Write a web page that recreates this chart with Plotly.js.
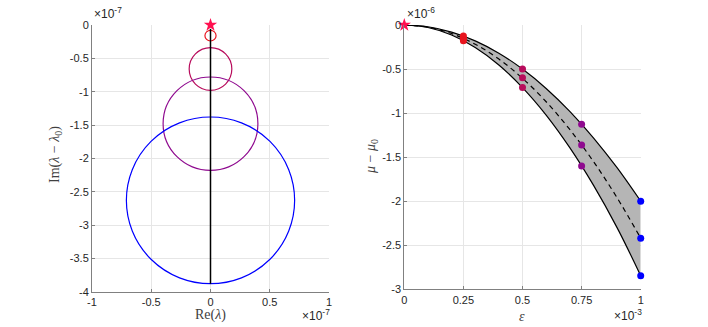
<!DOCTYPE html>
<html>
<head>
<meta charset="utf-8">
<script src="https://cdn.plot.ly/plotly-3.0.1.min.js"></script>
<style>
  body { margin: 0; background: #fff; }
  #plot { width: 708px; height: 327px; }
</style>
</head>
<body>
<div id="plot"></div>
<script>
// left panel: Im/Re plane, values in units of 1e-7
const reTicks = [-1, -0.5, 0, 0.5, 1];
const reTickText = ['-1', '-0.5', '0', '0.5', '1'];
const imTicks = [0, -0.5, -1, -1.5, -2, -2.5, -3, -3.5, -4];
const imTickText = ['0', '-0.5', '-1', '-1.5', '-2', '-2.5', '-3', '-3.5', '-4'];

const stemRe = [0, 0];
const stemIm = [0, -3.88];

const circleCenterIm = [-0.16, -0.66, -1.48, -2.63];
const circleRadiusIm = [0.08, 0.32, 0.70, 1.25];
const circleRadiusRe = [0.047, 0.18, 0.40, 0.71];

// right panel: mu - mu0 (1e-6) against epsilon (1e-3)
const epsTicks = [0, 0.25, 0.5, 0.75, 1];
const epsTickText = ['0', '0.25', '0.5', '0.75', '1'];
const muTicks = [0, -0.5, -1, -1.5, -2, -2.5, -3];
const muTickText = ['0', '-0.5', '-1', '-1.5', '-2', '-2.5', '-3'];

const eps = [0, 0.1, 0.2, 0.3, 0.4, 0.5, 0.6, 0.7, 0.8, 0.9, 1];
const muUpper = [0, -0.02, -0.08, -0.18, -0.32, -0.50, -0.72, -0.98, -1.28, -1.62, -2.00];
const muMid = [0, -0.024, -0.097, -0.218, -0.387, -0.605, -0.871, -1.186, -1.549, -1.96, -2.42];
const muLower = [0, -0.028, -0.114, -0.256, -0.454, -0.71, -1.022, -1.392, -1.818, -2.30, -2.845];

const dotEps = [0.25, 0.25, 0.25, 0.5, 0.5, 0.5, 0.75, 0.75, 0.75, 1, 1, 1];
const dotMu = [-0.125, -0.151, -0.178, -0.50, -0.60, -0.71, -1.127, -1.362, -1.60, -2.0, -2.42, -2.845];

const levelColors = ['#e8141e', '#b80c5c', '#8f0a8f', '#0000ff'];
const dotColors = dotEps.map(e => levelColors[Math.round(e * 4) - 1]);
const starColor = '#ff1050';

const tickFont = {family: 'Liberation Sans, Arial, sans-serif', size: 11, color: '#262626'};
const expFont = {family: 'Liberation Sans, Arial, sans-serif', size: 12, color: '#262626'};
const labelFont = {family: 'Liberation Serif, serif', size: 14, color: '#404040'};

function baseAxis(extra) {
    return Object.assign({
        showline: true,
        linecolor: '#808080',
        linewidth: 1,
        ticks: 'inside',
        ticklen: 3,
        tickcolor: '#808080',
        tickfont: tickFont,
        showgrid: true,
        gridcolor: '#e6e6e6',
        gridwidth: 1,
        zeroline: false,
        tickmode: 'array'
    }, extra);
}

function mirrorAxis(extra) {
    return Object.assign({
        showline: false,
        ticks: 'inside',
        ticklen: 3,
        tickcolor: '#808080',
        showticklabels: false,
        showgrid: false,
        zeroline: false,
        tickmode: 'array'
    }, extra);
}

const data = [
    {
        x: [stemRe[0]], y: [stemIm[0]], xaxis: 'x', yaxis: 'y',
        type: 'scatter', mode: 'markers', cliponaxis: false,
        marker: {symbol: 'star', size: 10, color: starColor}
    },
    {
        x: eps, y: muUpper, xaxis: 'x2', yaxis: 'y2',
        type: 'scatter', mode: 'lines',
        line: {color: '#000', width: 1.2, shape: 'spline'}
    },
    {
        x: eps, y: muLower, xaxis: 'x2', yaxis: 'y2',
        type: 'scatter', mode: 'lines',
        fill: 'tonexty', fillcolor: '#b5b5b5',
        line: {color: '#000', width: 1.2, shape: 'spline'}
    },
    {
        x: eps, y: muMid, xaxis: 'x2', yaxis: 'y2',
        type: 'scatter', mode: 'lines',
        line: {color: '#000', width: 1.2, dash: '5px,4px', shape: 'spline'}
    },
    {
        x: dotEps, y: dotMu, xaxis: 'x2', yaxis: 'y2',
        type: 'scatter', mode: 'markers', cliponaxis: false,
        marker: {size: 7, color: dotColors}
    },
    {
        x: [eps[0]], y: [muMid[0]], xaxis: 'x2', yaxis: 'y2',
        type: 'scatter', mode: 'markers', cliponaxis: false,
        marker: {symbol: 'star', size: 10, color: starColor}
    }
];

// circles first, the black stem on top of them
const shapes = circleCenterIm.map((c, i) => ({
    type: 'circle', xref: 'x', yref: 'y', layer: 'above',
    x0: -circleRadiusRe[i], x1: circleRadiusRe[i],
    y0: c - circleRadiusIm[i], y1: c + circleRadiusIm[i],
    line: {color: levelColors[i], width: 1.2}
}));
shapes.push({
    type: 'line', xref: 'x', yref: 'y', layer: 'above',
    x0: stemRe[0], x1: stemRe[1], y0: stemIm[0] - 0.06, y1: stemIm[1],
    line: {color: '#000', width: 1.5}
});

const annotations = [
    {xref: 'paper', yref: 'paper', x: 92 / 708, y: 1 - 23 / 327, xanchor: 'left', yanchor: 'bottom',
     text: '×10<sup>-7</sup>', showarrow: false, font: expFont},
    {xref: 'paper', yref: 'paper', x: 332 / 708, y: 1 - 325 / 327, xanchor: 'right', yanchor: 'bottom',
     text: '×10<sup>-7</sup>', showarrow: false, font: expFont},
    {xref: 'paper', yref: 'paper', x: 405 / 708, y: 1 - 23 / 327, xanchor: 'left', yanchor: 'bottom',
     text: '×10<sup>-6</sup>', showarrow: false, font: expFont},
    {xref: 'paper', yref: 'paper', x: 644 / 708, y: 1 - 325 / 327, xanchor: 'right', yanchor: 'bottom',
     text: '×10<sup>-3</sup>', showarrow: false, font: expFont},
    {xref: 'paper', yref: 'paper', x: 210 / 708, y: 1 - 315 / 327, xanchor: 'center', yanchor: 'middle',
     text: 'Re(<i>λ</i>)', showarrow: false, font: labelFont},
    {xref: 'paper', yref: 'paper', x: 55 / 708, y: 1 - 155 / 327, xanchor: 'center', yanchor: 'middle',
     text: 'Im(<i>λ</i> − <i>λ</i><sub>0</sub>)', textangle: -90, showarrow: false, font: labelFont},
    {xref: 'paper', yref: 'paper', x: 522 / 708, y: 1 - 316 / 327, xanchor: 'center', yanchor: 'middle',
     text: '<i>ε</i>', showarrow: false, font: labelFont},
    {xref: 'paper', yref: 'paper', x: 372 / 708, y: 1 - 157 / 327, xanchor: 'center', yanchor: 'middle',
     text: '<i>μ</i> − <i>μ</i><sub>0</sub>', textangle: -90, showarrow: false, font: labelFont}
];

const layout = {
    width: 708,
    height: 327,
    margin: {l: 0, r: 0, t: 0, b: 0},
    paper_bgcolor: '#fff',
    plot_bgcolor: '#fff',
    showlegend: false,
    xaxis: baseAxis({domain: [92 / 708, 329 / 708], range: [-1, 1], tickvals: reTicks, ticktext: reTickText, anchor: 'y'}),
    yaxis: baseAxis({domain: [1 - 291.7 / 327, 1 - 25 / 327], range: [-4, 0], tickvals: imTicks, ticktext: imTickText, anchor: 'x'}),
    xaxis2: baseAxis({domain: [404.3 / 708, 640.7 / 708], range: [0, 1], tickvals: epsTicks, ticktext: epsTickText, anchor: 'y2'}),
    yaxis2: baseAxis({domain: [1 - 289.3 / 327, 1 - 25 / 327], range: [-3, 0], tickvals: muTicks, ticktext: muTickText, anchor: 'x2'}),
    xaxis3: mirrorAxis({overlaying: 'x', side: 'top', anchor: 'y', range: [-1, 1], tickvals: reTicks}),
    yaxis3: mirrorAxis({overlaying: 'y', side: 'right', anchor: 'x', range: [-4, 0], tickvals: imTicks}),
    xaxis4: mirrorAxis({overlaying: 'x2', side: 'top', anchor: 'y2', range: [0, 1], tickvals: epsTicks}),
    yaxis4: mirrorAxis({overlaying: 'y2', side: 'right', anchor: 'x2', range: [-3, 0], tickvals: muTicks}),
    shapes: shapes,
    annotations: annotations
};

Plotly.newPlot('plot', data, layout, {displayModeBar: false, staticPlot: true});
</script>
</body>
</html>
